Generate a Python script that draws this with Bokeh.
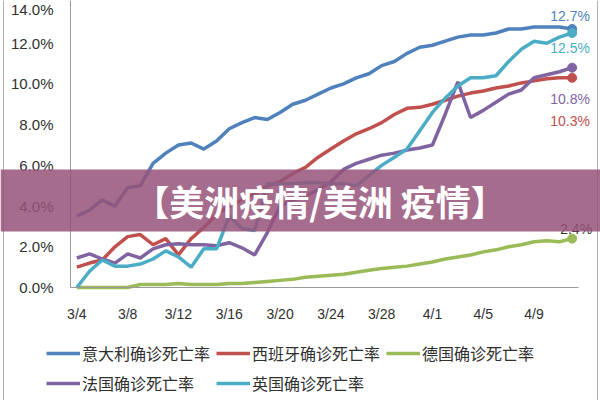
from bokeh.plotting import figure
from bokeh.models import (BoxAnnotation, Label, Legend, LegendItem, FixedTicker,
                          PrintfTickFormatter, Range1d, Span)
from bokeh.embed import file_html
from bokeh.resources import INLINE

dates = ["3/4", "3/5", "3/6", "3/7", "3/8", "3/9", "3/10", "3/11", "3/12", "3/13",
         "3/14", "3/15", "3/16", "3/17", "3/18", "3/19", "3/20", "3/21", "3/22", "3/23",
         "3/24", "3/25", "3/26", "3/27", "3/28", "3/29", "3/30", "3/31", "4/1", "4/2",
         "4/3", "4/4", "4/5", "4/6", "4/7", "4/8", "4/9", "4/10", "4/11", "4/12"]
tick_labels = ["3/4", "3/8", "3/12", "3/16", "3/20", "3/24", "3/28", "4/1", "4/5", "4/9"]
y_ticks = [0, 2, 4, 6, 8, 10, 12, 14]

names = ["意大利确诊死亡率", "西班牙确诊死亡率", "德国确诊死亡率", "法国确诊死亡率", "英国确诊死亡率"]

italy = [3.5, 3.8, 4.3, 4.0, 4.9, 5.0, 6.1, 6.6, 7.0, 7.1,
         6.8, 7.2, 7.8, 8.1, 8.35, 8.25, 8.6, 9.0, 9.2, 9.5,
         9.8, 10.0, 10.3, 10.5, 10.9, 11.1, 11.5, 11.8, 11.9, 12.1,
         12.3, 12.4, 12.4, 12.5, 12.7, 12.7, 12.8, 12.8, 12.8, 12.7]
spain = [1.0, 1.2, 1.35, 2.0, 2.5, 2.6, 2.1, 2.4, 1.6, 2.4,
         2.95, 3.6, 4.0, 4.3, 4.6, 5.0, 5.2, 5.6, 5.9, 6.4,
         6.8, 7.2, 7.55, 7.8, 8.1, 8.5, 8.8, 8.85, 9.0, 9.2,
         9.4, 9.55, 9.65, 9.8, 9.9, 10.05, 10.15, 10.25, 10.3, 10.3]
germany = [0.0, 0.0, 0.0, 0.0, 0.0, 0.15, 0.15, 0.15, 0.2, 0.15,
           0.15, 0.15, 0.2, 0.2, 0.25, 0.3, 0.35, 0.4, 0.5, 0.55,
           0.6, 0.65, 0.75, 0.85, 0.93, 1.0, 1.05, 1.15, 1.25, 1.4,
           1.5, 1.6, 1.75, 1.85, 2.0, 2.1, 2.25, 2.3, 2.25, 2.4]
france = [1.45, 1.65, 1.4, 1.2, 1.65, 1.45, 1.9, 2.1, 2.15, 2.1,
          2.1, 2.05, 2.2, 1.95, 1.6, 2.7, 4.0, 4.3, 4.5, 4.8,
          5.2, 5.8, 6.1, 6.3, 6.5, 6.6, 6.75, 6.85, 7.0, 8.5,
          10.1, 8.35, 8.7, 9.1, 9.5, 9.7, 10.3, 10.45, 10.6, 10.8]
uk = [0.0, 0.8, 1.35, 1.05, 1.05, 1.15, 1.4, 1.8, 1.5, 1.0,
      1.9, 1.9, 3.5, 2.9, 2.8, 5.1, 5.1, 5.1, 5.15, 5.15,
      5.1, 5.1, 5.0, 5.5, 6.0, 6.4, 6.8, 7.7, 8.6, 9.3,
      9.9, 10.3, 10.3, 10.4, 11.1, 11.7, 12.1, 12.0, 12.3, 12.5]

series = [italy, spain, germany, france, uk]
colors = ["#4F81BD", "#C0504D", "#9BBB59", "#8064A2", "#4BACC6"]
label_colors = ["#4F81BD", "#C0504D", "#303030", "#8064A2", "#4BACC6"]
label_offsets = [(-2, 13), (-2, -43), (4, 10), (-2, -31), (-2, -15)]

banner_text = "【美洲疫情/美洲 疫情】"

W, H = 600, 400
plot_left, plot_top, plot_bottom = 70, 2, 287     # pixel box of the chart area
x0, x1 = -0.5, len(dates) - 0.5                  # category extent
y0, y1 = 0, 14
sx = (578 - plot_left) / (x1 - x0)
sy = (plot_bottom - plot_top) / (y1 - y0)
x_range = Range1d(x0 - plot_left / sx, x1 + (W - 578) / sx)
y_range = Range1d(y0 - (H - plot_bottom) / sy, y1 + plot_top / sy)

x = list(range(len(dates)))

p = figure(width=W, height=H, output_backend="svg", toolbar_location=None,
           x_range=x_range, y_range=y_range,
           min_border_left=0, min_border_right=0, min_border_top=0, min_border_bottom=0)
p.outline_line_color = None
p.grid.visible = False
p.background_fill_color = "white"
p.border_fill_color = "white"

ax = p.xaxis[0]
ax.fixed_location = 0
ax.ticker = FixedTicker(ticks=[dates.index(t) for t in tick_labels])
ax.major_label_overrides = {dates.index(t): t for t in tick_labels}
ax.bounds = (x0, x1)
ax.axis_line_color = "#9a9a9a"
ax.major_tick_line_color = None
ax.minor_tick_line_color = None
ax.major_tick_out = 0
ax.major_tick_in = 0
ax.major_label_standoff = 18
ax.major_label_text_font = "Liberation Sans"
ax.major_label_text_font_size = "14px"
ax.major_label_text_color = "#303030"

ay = p.yaxis[0]
ay.fixed_location = x0
ay.ticker = FixedTicker(ticks=y_ticks)
ay.formatter = PrintfTickFormatter(format="%.1f%%")
ay.bounds = (y0, y_range.end)
ay.axis_line_color = "#9a9a9a"
ay.major_tick_line_color = None
ay.minor_tick_line_color = None
ay.major_tick_out = 0
ay.major_tick_in = 0
ay.major_label_standoff = 17
ay.major_label_text_font = "Liberation Sans"
ay.major_label_text_font_size = "15px"
ay.major_label_text_color = "#303030"

# outer chart border
for px in (3, 597):
    p.add_layout(Span(location=x_range.start + px / sx, dimension="height",
                      line_color="#b0b0b0", line_width=1))

items = []
for name, ys, c in zip(names, series, colors):
    r = p.line(x, ys, line_color=c, line_width=3.5)
    p.scatter([x[-1]], [ys[-1]], size=9, fill_color=c, line_color=c)
    items.append(LegendItem(label=name, renderers=[r]))

for ys, c, (dx, dy) in zip(series, label_colors, label_offsets):
    p.add_layout(Label(x=x[-1], y=ys[-1], text=f"{ys[-1]:.1f}%", x_offset=dx, y_offset=dy,
                       text_align="center", text_baseline="middle", text_color=c,
                       text_font="Liberation Sans", text_font_size="14px"))

legend = Legend(items=items, ncols=3, orientation="horizontal", location=(46, 5),
                glyph_width=34, glyph_height=24, label_height=24, label_standoff=2,
                spacing=6, padding=0, margin=0, border_line_color=None,
                background_fill_alpha=0, label_text_font="Noto Sans CJK SC",
                label_text_font_size="16px", label_text_color="#303030")
p.add_layout(legend, "center")

banner = BoxAnnotation(top=5.8, bottom=2.75, fill_color="#975279", fill_alpha=0.85,
                       line_color=None)
p.add_layout(banner)
p.add_layout(Label(x=19.15, y=4.27, text=banner_text, text_align="center",
                   text_baseline="middle", text_color="white", text_font="Noto Sans CJK SC",
                   text_font_style="bold", text_font_size="35px"))

open("out.html", "w").write(file_html(p, INLINE))
